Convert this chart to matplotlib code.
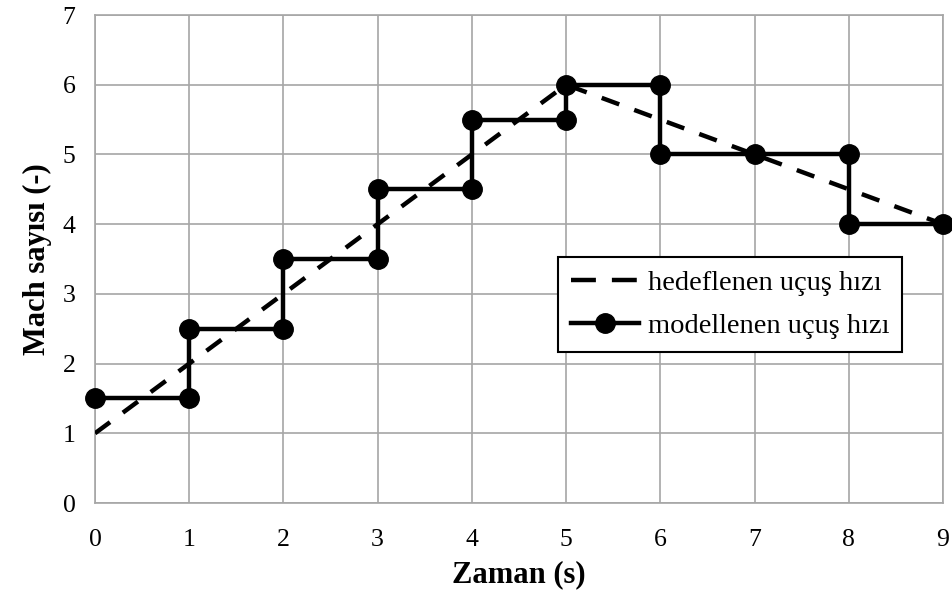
import matplotlib
matplotlib.use("Agg")
import matplotlib.pyplot as plt

target_x = [0, 5, 9]
target_y = [1, 6, 4]

model_x = [0, 1, 1, 2, 2, 3, 3, 4, 4, 5, 5, 6, 6, 7, 8, 8, 9]
model_y = [1.5, 1.5, 2.5, 2.5, 3.5, 3.5, 4.5, 4.5, 5.5, 5.5, 6, 6, 5, 5, 5, 4, 4]

xticks = list(range(0, 10))
yticks = list(range(0, 8))

plt.rcParams['font.family'] = ['Liberation Serif', 'DejaVu Serif']

fig = plt.figure(figsize=(9.53, 5.94), dpi=100)
ax = fig.add_axes([95/953, 1-503/594, (943-95)/953, (503-15)/594])

ax.plot(target_x, target_y, color='black', lw=3.2, dashes=(4.2, 3.6), label='hedeflenen uçuş hızı', zorder=3)
ax.plot(model_x, model_y, color='black', lw=3.2, marker='o', markersize=14, label='modellenen uçuş hızı', zorder=4, clip_on=False)

ax.set_xlim(0, 9)
ax.set_ylim(0, 7)
ax.set_xticks(xticks)
ax.set_yticks(yticks)
ax.grid(True, color='#a6a6a6', lw=1.2)
for s in ax.spines.values():
    s.set_color('#a6a6a6')
    s.set_linewidth(1.2)
ax.tick_params(axis='x', length=0, labelsize=18.5, pad=19, colors='black')
ax.tick_params(axis='y', length=0, labelsize=18.5, pad=14, colors='black')
ax.set_axisbelow(True)

ax.set_xlabel('Zaman (s)', fontsize=22, fontweight='bold', labelpad=6)
ax.set_ylabel('Mach sayısı (-)', fontsize=22, fontweight='bold', labelpad=8)

leg = ax.legend(loc='upper left', bbox_to_anchor=((558-95)/848, (503-257)/488), borderaxespad=0,
                fontsize=20.5, frameon=True, fancybox=False, edgecolor='black', framealpha=1,
                handlelength=2.4, handletextpad=0.3, borderpad=0.45, labelspacing=0.6)
leg.get_frame().set_linewidth(1.5)
leg.get_lines()[0].set_dashes((5.6, 3.6))

fig.savefig('out.png', dpi=100)
